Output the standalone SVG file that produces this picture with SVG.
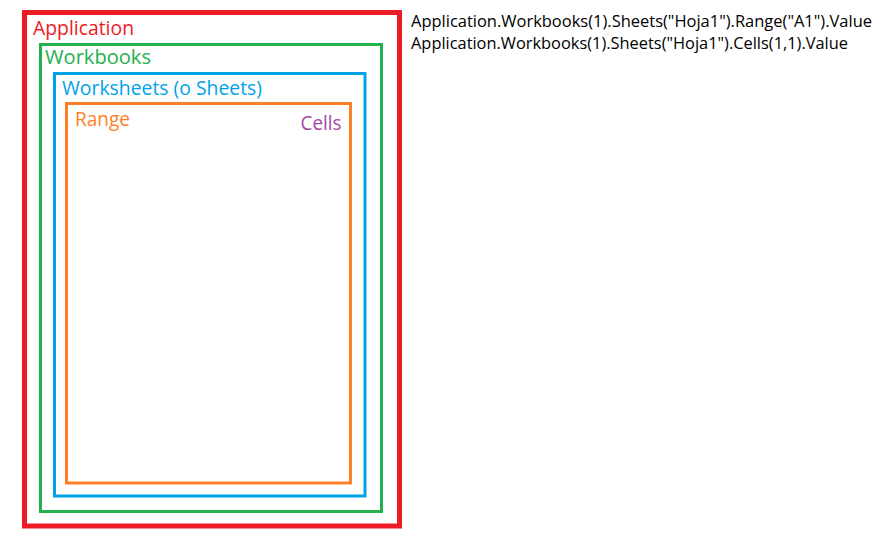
<svg xmlns="http://www.w3.org/2000/svg" width="882" height="534" viewBox="0 0 882 534">
<style>
  .box { fill: none; }
  .lbl { font-family: "Open Sans", "Noto Sans", "Liberation Sans", sans-serif; font-weight: 500; }
</style>
<rect width="882" height="534" fill="#FFFFFF"/>
<g id="application">
  <rect class="box" x="24.5" y="12.5" width="375" height="513.5" stroke="#ED1C24" stroke-width="5"/>
  <text class="lbl" x="33" y="35" font-size="20" fill="#ED1C24" textLength="101" lengthAdjust="spacingAndGlyphs">Application</text>
</g>
<g id="workbooks">
  <rect class="box" x="40.5" y="44.5" width="341" height="467" stroke="#22B14C" stroke-width="3"/>
  <text class="lbl" x="45" y="63.5" font-size="20" fill="#22B14C" textLength="106" lengthAdjust="spacingAndGlyphs">Workbooks</text>
</g>
<g id="worksheets">
  <rect class="box" x="54.5" y="73.5" width="310.5" height="422.5" stroke="#00A2E8" stroke-width="3"/>
  <text class="lbl" x="62" y="94.5" font-size="20" fill="#00A2E8" textLength="200" lengthAdjust="spacingAndGlyphs">Worksheets (o Sheets)</text>
</g>
<g id="range">
  <rect class="box" x="66.5" y="103.5" width="284" height="379.5" stroke="#FF7F27" stroke-width="3"/>
  <text class="lbl" x="75" y="126" font-size="20" fill="#FF7F27" textLength="55" lengthAdjust="spacingAndGlyphs">Range</text>
</g>
<g id="cells">
  <text class="lbl" x="300.5" y="130" font-size="20" fill="#A349A4" textLength="41" lengthAdjust="spacingAndGlyphs">Cells</text>
</g>
<g id="code">
  <text class="lbl" x="411" y="27" font-size="16" fill="#000000" textLength="461" lengthAdjust="spacingAndGlyphs">Application.Workbooks(1).Sheets("Hoja1").Range("A1").Value</text>
  <text class="lbl" x="411" y="48.5" font-size="16" fill="#000000" textLength="437" lengthAdjust="spacingAndGlyphs">Application.Workbooks(1).Sheets("Hoja1").Cells(1,1).Value</text>
</g>
<g id="connectors"></g>
</svg>
